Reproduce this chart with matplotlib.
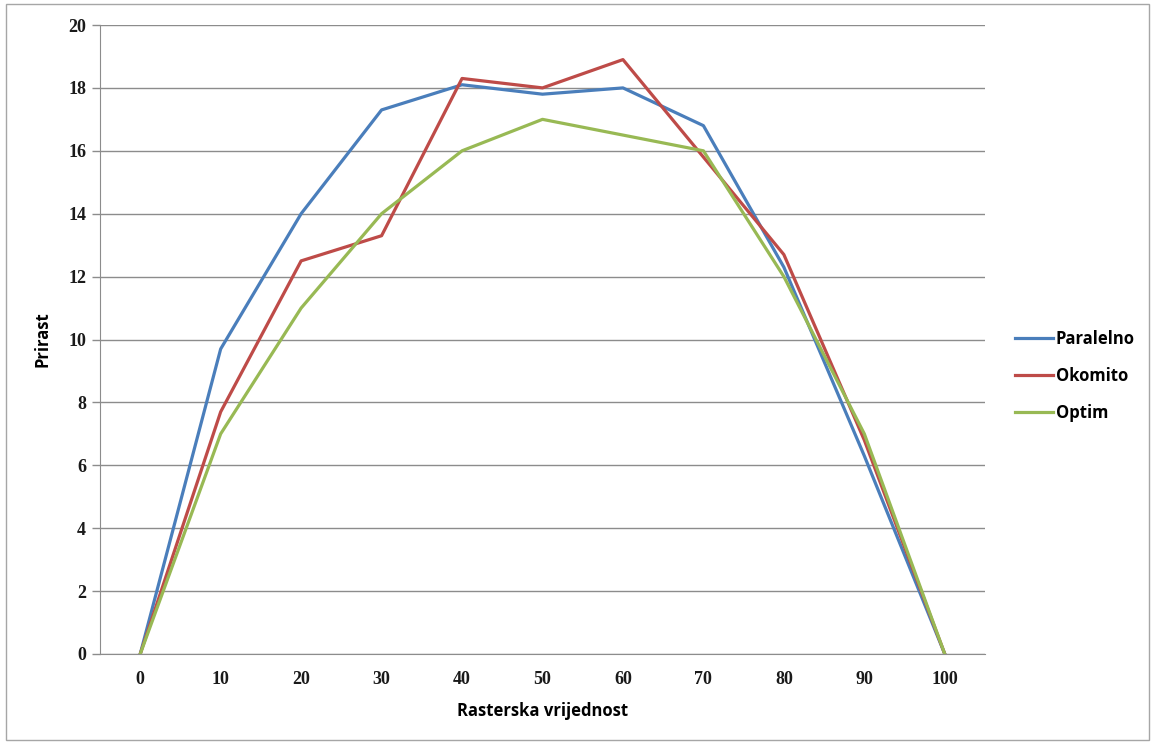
import matplotlib
matplotlib.use("Agg")
import matplotlib.pyplot as plt
from matplotlib.patches import Rectangle

categories = ["0", "10", "20", "30", "40", "50", "60", "70", "80", "90", "100"]
paralelno = [0, 9.7, 14.0, 17.3, 18.1, 17.8, 18.0, 16.8, 12.3, 6.3, 0]
okomito = [0, 7.7, 12.5, 13.3, 18.3, 18.0, 18.9, 15.8, 12.7, 6.8, 0]
optim = [0, 7.0, 11.0, 14.0, 16.0, 17.0, 16.5, 16.0, 12.0, 7.0, 0]
series_names = ["Paralelno", "Okomito", "Optim"]
colors = ["#4A7EBB", "#BE4B48", "#98B954"]
yticks = [0, 2, 4, 6, 8, 10, 12, 14, 16, 18, 20]

fig = plt.figure(figsize=(11.56, 7.44), dpi=100)
fig.patches.append(Rectangle((6/1156, 4/744), 1143/1156, 736/744, transform=fig.transFigure,
                             fill=False, edgecolor="#a6a6a6", linewidth=1.0))
ax = fig.add_axes([100/1156, 1 - 654/744, 885/1156, 629/744])

x = list(range(len(categories)))
for vals, name, c in zip([paralelno, okomito, optim], series_names, colors):
    ax.plot(x, vals, color=c, linewidth=2.3, label=name, solid_joinstyle="round")

ax.set_xlim(-0.5, len(categories) - 0.5)
ax.set_ylim(0, 20)
ax.set_yticks(yticks)
ax.set_xticks(x)
ax.set_xticklabels(categories)
ax.yaxis.grid(True, color="#8c8c8c", linewidth=1.0)
ax.set_axisbelow(True)
for s in ["top", "right"]:
    ax.spines[s].set_visible(False)
ax.spines["left"].set_color("#8c8c8c")
ax.spines["bottom"].set_color("#8c8c8c")
ax.tick_params(axis="y", length=6, color="#8c8c8c", width=1.0, pad=4)
ax.tick_params(axis="x", length=0, pad=12)
for lab in ax.get_xticklabels() + ax.get_yticklabels():
    lab.set_fontfamily("Liberation Serif")
    lab.set_fontsize(13)
    lab.set_fontweight("bold")
    lab.set_color("#1a1a1a")

ax.set_xlabel("Rasterska vrijednost", fontfamily="Open Sans", fontweight="bold", fontsize=12, labelpad=10)
ax.set_ylabel("Prirast", fontfamily="Open Sans", fontweight="bold", fontsize=12, labelpad=12)

leg = ax.legend(loc="center left", bbox_to_anchor=(1.017, 0.442), frameon=False,
                prop={"family": "Open Sans", "weight": "bold", "size": 12},
                handlelength=2.3, handletextpad=0.15, labelspacing=1.13)

fig.savefig("out.png", dpi=100)
